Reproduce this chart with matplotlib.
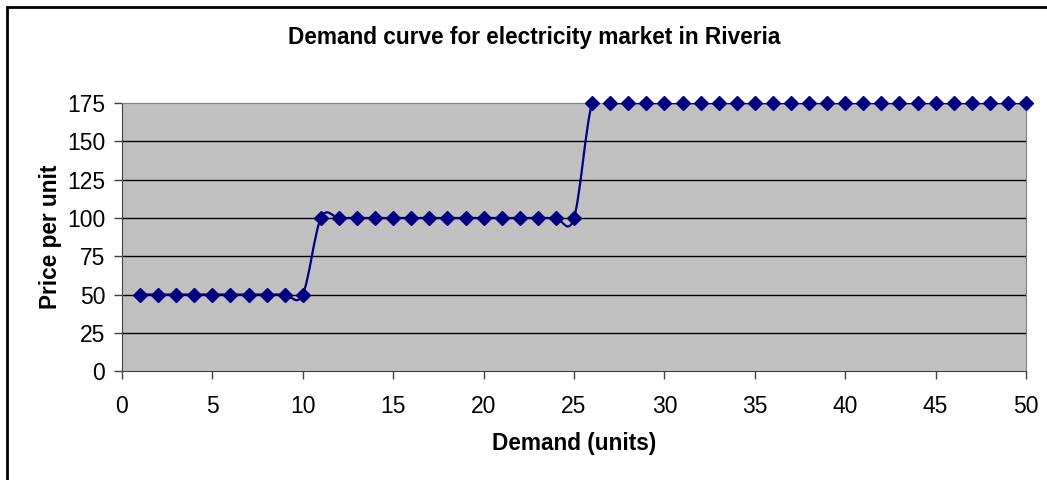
import numpy as np
import matplotlib.pyplot as plt
from matplotlib.path import Path
from matplotlib.patches import PathPatch, Rectangle

plt.rcParams['font.family'] = ['Liberation Sans', 'DejaVu Sans']

demand = list(range(1, 51))
price = [50] * 10 + [100] * 15 + [175] * 25
yticks = [0, 25, 50, 75, 100, 125, 150, 175]
xticks = [0, 5, 10, 15, 20, 25, 30, 35, 40, 45, 50]

navy = '#000080'


def smooth_path(x, y):
    # cubic bezier through each point, spreadsheet-style smoothing
    p = np.column_stack([x, y]).astype(float)
    n = len(p)
    verts = [p[0]]
    codes = [Path.MOVETO]
    for i in range(n - 1):
        prev = p[i - 1] if i > 0 else p[i]
        nxt = p[i + 2] if i + 2 < n else p[i + 1]
        c1 = p[i] + (p[i + 1] - prev) / 6
        c2 = p[i + 1] - (nxt - p[i]) / 6
        verts += [c1, c2, p[i + 1]]
        codes += [Path.CURVE4] * 3
    return Path(verts, codes)


fig = plt.figure(figsize=(10.47, 4.8), dpi=100)
ax = fig.add_axes([0.1165, 0.227, 0.8635, 0.558])
ax.set_facecolor('#c0c0c0')

ax.add_patch(PathPatch(smooth_path(demand, price), facecolor='none',
                       edgecolor=navy, lw=1.6, zorder=3))
ax.plot(demand, price, ls='none', marker='D', ms=7.5, color=navy, zorder=4,
        clip_on=False)

ax.set_xlim(0, 50)
ax.set_ylim(0, 175)
ax.set_xticks(xticks)
ax.set_yticks(yticks)
for t in yticks[1:-1]:
    ax.axhline(t, color='black', lw=1, zorder=1)

for side in ['top', 'right']:
    ax.spines[side].set_color('#808080')
for side in ['left', 'bottom']:
    ax.spines[side].set_color('#404040')
ax.tick_params(direction='out', length=6, width=1, color='#404040',
               labelsize=16.5)
ax.tick_params(axis='x', pad=11)
ax.tick_params(axis='y', pad=6)

ax.set_xlabel('Demand (units)', fontsize=16.3, fontweight='bold', labelpad=10)
ax.set_ylabel('Price per unit', fontsize=16.3, fontweight='bold', labelpad=4)
fig.text(0.51, 0.921, 'Demand curve for electricity market in Riveria',
         ha='center', va='center', fontsize=16.3, fontweight='bold')

# outer chart frame
fig.patches.append(Rectangle((7 / 1047, -0.1), 1.2, 1.1 - 7 / 480,
                             transform=fig.transFigure, fill=False,
                             edgecolor='black', lw=2))

fig.savefig('out.png', dpi=100)
